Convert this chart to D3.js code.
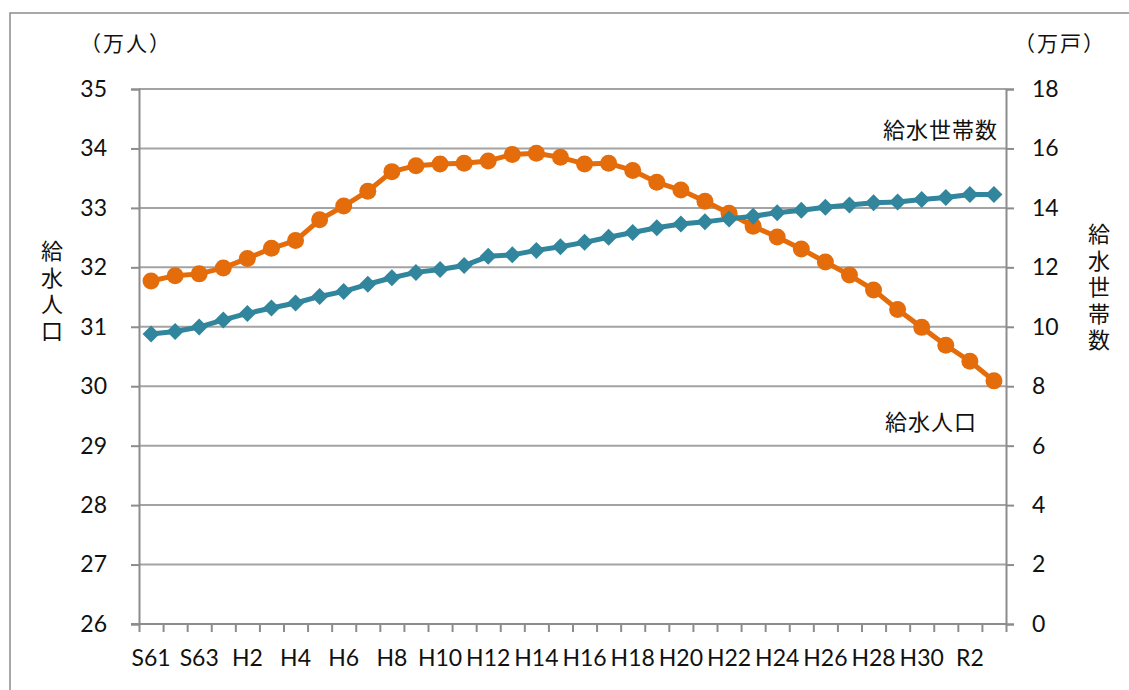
<!DOCTYPE html>
<html>
<head>
<meta charset="utf-8">
<script src="https://cdn.jsdelivr.net/npm/d3@7"></script>
<style>
  html, body { margin: 0; padding: 0; background: #fff; }
  svg { display: block; }
  .num { font-family: Lato, "Noto Sans CJK JP", sans-serif; font-size: 23px; fill: #111; }
  .jp { font-family: "Noto Sans CJK JP", sans-serif; fill: #111; }
</style>
</head>
<body>
<svg id="chart" width="1129" height="690"></svg>
<script>
// Fiscal years S61 (1986) to R3 (2021)
const categories = [
  "S61","S62","S63",
  "H1","H2","H3","H4","H5","H6","H7","H8","H9","H10",
  "H11","H12","H13","H14","H15","H16","H17","H18","H19","H20",
  "H21","H22","H23","H24","H25","H26","H27","H28","H29","H30",
  "R1","R2","R3"
];
// Every other year is labelled on the category axis
const xTickLabels = ["S61","S63","H2","H4","H6","H8","H10","H12","H14","H16","H18","H20","H22","H24","H26","H28","H30","R2"];

// 給水人口 (万人), left axis
const population = [
  31.77, 31.86, 31.89,
  31.99, 32.15, 32.32, 32.45, 32.80, 33.03, 33.28, 33.61, 33.71, 33.74,
  33.75, 33.79, 33.90, 33.92, 33.85, 33.74, 33.75, 33.63, 33.43, 33.30,
  33.11, 32.91, 32.69, 32.51, 32.31, 32.09, 31.87, 31.62, 31.29, 30.99,
  30.69, 30.42, 30.09
];
// 給水世帯数 (万戸), right axis
const households = [
  9.76, 9.84, 9.99,
  10.23, 10.45, 10.63, 10.80, 11.02, 11.19, 11.43, 11.65, 11.83, 11.93,
  12.06, 12.37, 12.42, 12.57, 12.69, 12.84, 13.01, 13.17, 13.33, 13.46,
  13.53, 13.63, 13.72, 13.84, 13.92, 14.02, 14.10, 14.17, 14.20, 14.28,
  14.35, 14.45, 14.45
];
const leftTicks = [26, 27, 28, 29, 30, 31, 32, 33, 34, 35];
const rightTicks = [0, 2, 4, 6, 8, 10, 12, 14, 16, 18];

const svg = d3.select("#chart");
const plot = { left: 139, right: 1006, top: 89, bottom: 624 };
const axisColor = "#8c8c8c";
const gridColor = "#a3a3a3";
const orange = "#E46C0A";
const teal = "#31859C";

// Outer chart frame
svg.append("rect")
  .attr("x", 10).attr("y", 13)
  .attr("width", 1140).attr("height", 700)
  .attr("fill", "none").attr("stroke", "#8c8c8c").attr("stroke-width", 1.5);

const x = d3.scaleBand().domain(categories).range([plot.left, plot.right]).padding(0);
const xIdx = d3.scaleLinear().domain([0, categories.length]).range([plot.left, plot.right]);
const yL = d3.scaleLinear().domain([26, 35]).range([plot.bottom, plot.top]);
const yR = d3.scaleLinear().domain([0, 18]).range([plot.bottom, plot.top]);

// Horizontal gridlines
svg.append("g")
  .selectAll("line")
  .data(leftTicks.filter(d => d !== 26))
  .join("line")
  .attr("x1", plot.left).attr("x2", plot.right)
  .attr("y1", d => yL(d)).attr("y2", d => yL(d))
  .attr("stroke", gridColor).attr("stroke-width", 2);

// Left axis
const gL = svg.append("g")
  .attr("transform", `translate(${plot.left},0)`)
  .call(d3.axisLeft(yL).tickValues(leftTicks).tickSize(8).tickPadding(24).tickFormat(d3.format("d")));
gL.select(".domain").attr("stroke", axisColor).attr("stroke-width", 2);
gL.selectAll(".tick line").attr("stroke", axisColor).attr("stroke-width", 2);
gL.selectAll(".tick text").attr("class", "num").attr("font-size", null).attr("font-family", null);

// Right axis
const gR = svg.append("g")
  .attr("transform", `translate(${plot.right},0)`)
  .call(d3.axisRight(yR).tickValues(rightTicks).tickSize(8).tickPadding(18).tickFormat(d3.format("d")));
gR.select(".domain").attr("stroke", axisColor).attr("stroke-width", 2);
gR.selectAll(".tick line").attr("stroke", axisColor).attr("stroke-width", 2);
gR.selectAll(".tick text").attr("class", "num").attr("font-size", null).attr("font-family", null);

// Bottom axis: tick marks on category boundaries
const gB = svg.append("g")
  .attr("transform", `translate(0,${plot.bottom})`)
  .call(d3.axisBottom(xIdx).tickValues(d3.range(categories.length + 1)).tickSize(8).tickFormat(""));
gB.select(".domain").attr("stroke", axisColor).attr("stroke-width", 2)
  .attr("d", `M${plot.left - 8},0H${plot.right}`);
gB.selectAll(".tick line").attr("stroke", axisColor).attr("stroke-width", 2);

// Bottom axis labels centred on categories
const gBL = svg.append("g")
  .attr("transform", `translate(0,${plot.bottom})`)
  .call(d3.axisBottom(x).tickValues(xTickLabels).tickSize(0).tickPadding(26));
gBL.select(".domain").remove();
gBL.selectAll(".tick text").attr("class", "num").attr("font-size", null).attr("font-family", null);

// Population line (circles)
const linePop = d3.line().x((d, i) => x(categories[i]) + x.bandwidth() / 2).y(d => yL(d));
svg.append("path").datum(population)
  .attr("d", linePop).attr("fill", "none")
  .attr("stroke", orange).attr("stroke-width", 5).attr("stroke-linejoin", "round");
svg.append("g").selectAll("circle").data(population).join("circle")
  .attr("cx", (d, i) => x(categories[i]) + x.bandwidth() / 2)
  .attr("cy", d => yL(d))
  .attr("r", 8.5).attr("fill", orange);

// Households line (diamonds)
const lineHh = d3.line().x((d, i) => x(categories[i]) + x.bandwidth() / 2).y(d => yR(d));
svg.append("path").datum(households)
  .attr("d", lineHh).attr("fill", "none")
  .attr("stroke", teal).attr("stroke-width", 5).attr("stroke-linejoin", "round");
const diamond = "M0,-8.5L8.5,0L0,8.5L-8.5,0Z";
svg.append("g").selectAll("path").data(households).join("path")
  .attr("transform", (d, i) => `translate(${x(categories[i]) + x.bandwidth() / 2},${yR(d)})`)
  .attr("d", diamond).attr("fill", teal);

// Unit labels
svg.append("text").attr("class", "jp").attr("font-size", 21).attr("letter-spacing", 2)
  .attr("x", 80).attr("y", 51).text("（万人）");
svg.append("text").attr("class", "jp").attr("font-size", 21).attr("letter-spacing", 2)
  .attr("x", 1014).attr("y", 51).text("（万戸）");

// Vertical axis titles, set in vertical writing mode
function verticalTitle(label, cx, top) {
  svg.append("text").attr("class", "jp")
    .attr("font-size", 22)
    .attr("writing-mode", "vertical-rl")
    .style("text-orientation", "upright")
    .attr("letter-spacing", 4.5)
    .attr("x", cx).attr("y", top)
    .text(label);
}
verticalTitle("給水人口", 52, 240);
verticalTitle("給水世帯数", 1099, 223);

// Series annotations
svg.append("text").attr("class", "jp").attr("font-size", 22).attr("letter-spacing", 1)
  .attr("x", 883).attr("y", 138).text("給水世帯数");
svg.append("text").attr("class", "jp").attr("font-size", 22).attr("letter-spacing", 1)
  .attr("x", 885).attr("y", 430).text("給水人口");
</script>
</body>
</html>
